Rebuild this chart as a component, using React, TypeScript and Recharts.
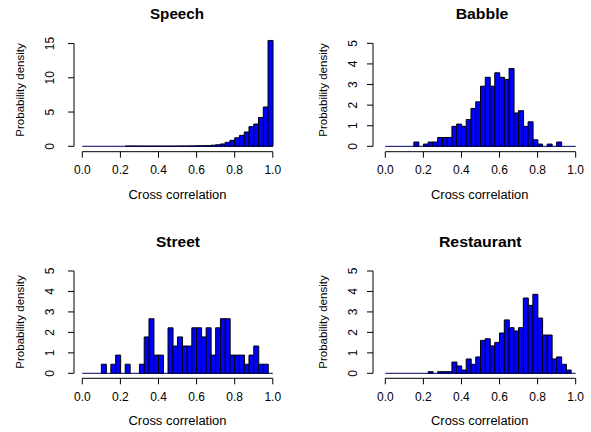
import React from 'react';
import { BarChart, Bar, XAxis, YAxis, ReferenceLine } from 'recharts';

const BIN_WIDTH = 0.025;
const binStarts = Array.from({ length: 40 }, (_, i) => i * BIN_WIDTH);
const xTicks = [0, 0.2, 0.4, 0.6, 0.8, 1.0];
const speechTicks = [0, 5, 10, 15];
const otherTicks = [0, 1, 2, 3, 4, 5];

const speechDensity = [
  0, 0, 0, 0, 0, 0, 0, 0, 0, 0.02,
  0.02, 0.02, 0.02, 0.01, 0.01, 0.01, 0.01, 0.01, 0.01, 0.01,
  0.03, 0.03, 0.04, 0.05, 0.07, 0.08, 0.1, 0.16, 0.22, 0.34,
  0.58, 0.87, 1.24, 1.6, 2.09, 2.87, 3.25, 4.2, 5.74, 15.45,
];
const babbleDensity = [
  0, 0, 0, 0, 0, 0, 0.21, 0, 0.11, 0.21,
  0.21, 0.43, 0.43, 0.43, 0.97, 1.08, 0.97, 1.3, 1.84, 2.16,
  2.92, 3.35, 2.92, 3.57, 3.35, 3.25, 3.78, 1.62, 1.73, 0.97,
  1.19, 0.32, 0.11, 0, 0.11, 0, 0.21, 0, 0, 0,
];
const streetDensity = [
  0, 0, 0, 0, 0.444, 0, 0.444, 0.889, 0, 0.444,
  0, 0, 0.444, 1.778, 2.667, 0.889, 0.889, 0, 2.222, 1.333,
  1.778, 1.333, 1.333, 2.222, 2.222, 1.778, 2.222, 0.889, 2.222, 2.667,
  2.667, 0.889, 0.889, 0.889, 0.444, 0.889, 1.333, 0.444, 0.444, 0,
];
const restaurantDensity = [
  0, 0, 0, 0, 0, 0, 0, 0, 0, 0.08,
  0, 0.08, 0.08, 0.08, 0.55, 0.36, 0.16, 0.7, 0.44, 0.8,
  1.61, 1.69, 1.34, 1.51, 1.97, 2.61, 2.23, 2.07, 2.23, 3.68,
  3.32, 3.86, 2.7, 1.87, 1.87, 0.7, 0.8, 0.44, 0.16, 0,
];

const titles = ['Speech', 'Babble', 'Street', 'Restaurant'];
const xLabel = 'Cross correlation';
const yLabel = 'Probability density';

const FONT = '"Liberation Sans", Arial, Helvetica, sans-serif';

function toRows(values: number[]) {
  return values.map((v, i) => ({ x: binStarts[i] + BIN_WIDTH / 2, density: v }));
}

const YTick = (props: any) => {
  const { x, y, payload } = props;
  return (
    <text
      x={x}
      y={y}
      transform={`rotate(-90 ${x} ${y})`}
      textAnchor="middle"
      fontSize={12}
      fontFamily={FONT}
      fill="#000"
    >
      {payload.value}
    </text>
  );
};

type PanelProps = {
  values: number[];
  yTicks: number[];
  left: number;
  top: number;
  width: number;
  height: number;
  margin: { top: number; right: number; bottom: number; left: number };
  xDomain: [number, number];
  yDomain: [number, number];
  yTickMargin: number;
};

function Panel({ values, yTicks, left, top, width, height, margin, xDomain, yDomain, yTickMargin }: PanelProps) {
  const data = toRows(values);
  const yTop = yTicks[yTicks.length - 1];
  return (
    <div style={{ position: 'absolute', left, top, width, height }}>
      <BarChart width={width} height={height} data={data} margin={margin} barCategoryGap={0} barGap={0}>
        <XAxis
          dataKey="x"
          type="number"
          domain={xDomain}
          ticks={xTicks}
          allowDataOverflow
          interval={0}
          axisLine={false}
          tickLine={{ stroke: '#000' }}
          tickSize={6}
          tickMargin={8}
          height={30}
          tickFormatter={(v: number) => v.toFixed(1)}
          tick={{ fill: '#000', fontSize: 12, fontFamily: FONT }}
        />
        <YAxis
          type="number"
          domain={yDomain}
          ticks={yTicks}
          allowDataOverflow
          interval={0}
          axisLine={false}
          tickLine={{ stroke: '#000' }}
          tickSize={6}
          tickMargin={yTickMargin}
          width={60}
          tick={YTick}
        />
        <Bar dataKey="density" fill="#0000FF" stroke="#000" strokeWidth={1} isAnimationActive={false} />
        <ReferenceLine
          segment={[{ x: 0, y: 0 }, { x: 1, y: 0 }]}
          stroke="#000066"
          strokeWidth={1}
          ifOverflow="visible"
        />
        <ReferenceLine
          segment={[{ x: 0, y: yDomain[0] }, { x: 1, y: yDomain[0] }]}
          stroke="#000"
          strokeWidth={1}
          ifOverflow="visible"
        />
        <ReferenceLine
          segment={[{ x: xDomain[0], y: 0 }, { x: xDomain[0], y: yTop }]}
          stroke="#000"
          strokeWidth={1}
          ifOverflow="visible"
        />
      </BarChart>
    </div>
  );
}

const titleStyle = { fontFamily: FONT, fontWeight: 700, fontSize: 14, fill: '#000' };
const labelStyle = { fontFamily: FONT, fontSize: 12, fill: '#000' };

export default function App() {
  return (
    <div style={{ position: 'absolute', left: 0, top: 0, width: 591, height: 432, background: '#fff' }}>
      <Panel
        values={speechDensity}
        yTicks={speechTicks}
        left={0}
        top={0}
        width={295}
        height={216}
        margin={{ top: 36.7, right: 13.9, bottom: 34.3, left: 14 }}
        xDomain={[-0.0436, 1.0436]}
        yDomain={[-0.79, 16]}
        yTickMargin={13.7}
      />
      <Panel
        values={babbleDensity}
        yTicks={otherTicks}
        left={295}
        top={0}
        width={296}
        height={216}
        margin={{ top: 39.2, right: 7.7, bottom: 34.3, left: 18 }}
        xDomain={[-0.0646, 1.04]}
        yDomain={[-0.26, 5.2]}
        yTickMargin={10.2}
      />
      <Panel
        values={streetDensity}
        yTicks={otherTicks}
        left={0}
        top={216}
        width={295}
        height={216}
        margin={{ top: 50.9, right: 13.9, bottom: 23.7, left: 14 }}
        xDomain={[-0.0436, 1.0436]}
        yDomain={[-0.244, 5.2]}
        yTickMargin={13.7}
      />
      <Panel
        values={restaurantDensity}
        yTicks={otherTicks}
        left={295}
        top={216}
        width={296}
        height={216}
        margin={{ top: 50.9, right: 7.7, bottom: 23.7, left: 18 }}
        xDomain={[-0.0646, 1.04]}
        yDomain={[-0.244, 5.2]}
        yTickMargin={10.2}
      />
      <svg width={591} height={432} style={{ position: 'absolute', left: 0, top: 0, pointerEvents: 'none' }}>
        <text x={177} y={18.7} textAnchor="middle" textLength={54} lengthAdjust="spacingAndGlyphs" style={titleStyle}>{titles[0]}</text>
        <text x={482} y={18.7} textAnchor="middle" textLength={52.7} lengthAdjust="spacingAndGlyphs" style={titleStyle}>{titles[1]}</text>
        <text x={178} y={246.7} textAnchor="middle" textLength={44} lengthAdjust="spacingAndGlyphs" style={titleStyle}>{titles[2]}</text>
        <text x={480.3} y={246.7} textAnchor="middle" textLength={82.7} lengthAdjust="spacingAndGlyphs" style={titleStyle}>{titles[3]}</text>

        <text x={177.5} y={198.7} textAnchor="middle" textLength={98} lengthAdjust="spacingAndGlyphs" style={labelStyle}>{xLabel}</text>
        <text x={479.7} y={198.7} textAnchor="middle" textLength={97.3} lengthAdjust="spacingAndGlyphs" style={labelStyle}>{xLabel}</text>
        <text x={177.5} y={425.4} textAnchor="middle" textLength={98} lengthAdjust="spacingAndGlyphs" style={labelStyle}>{xLabel}</text>
        <text x={479.7} y={425.4} textAnchor="middle" textLength={97.3} lengthAdjust="spacingAndGlyphs" style={labelStyle}>{xLabel}</text>

        <text x={24} y={90} transform="rotate(-90 24 90)" textAnchor="middle" style={{ ...labelStyle, fontSize: 11.5 }}>{yLabel}</text>
        <text x={326.5} y={90} transform="rotate(-90 326.5 90)" textAnchor="middle" style={{ ...labelStyle, fontSize: 11.5 }}>{yLabel}</text>
        <text x={24} y={322} transform="rotate(-90 24 322)" textAnchor="middle" style={{ ...labelStyle, fontSize: 11.5 }}>{yLabel}</text>
        <text x={326.5} y={322} transform="rotate(-90 326.5 322)" textAnchor="middle" style={{ ...labelStyle, fontSize: 11.5 }}>{yLabel}</text>
      </svg>
    </div>
  );
}
